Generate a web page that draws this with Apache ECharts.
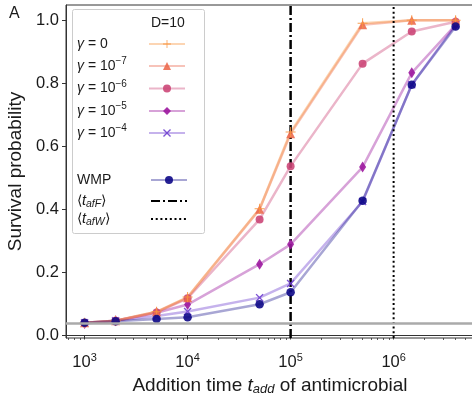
<!DOCTYPE html>
<html>
<head>
<meta charset="utf-8">
<script src="https://cdn.jsdelivr.net/npm/echarts@6/dist/echarts.min.js"></script>
<style>
  html, body { margin: 0; padding: 0; background: #fff; }
  #chart { width: 472px; height: 393px; }
</style>
</head>
<body>
<div id="chart"></div>
<script>
// addition times (x) and survival probabilities
const addTimes = [1e3, 2e3, 5e3, 1e4, 5e4, 1e5, 5e5, 1.5e6, 4e6];
const gamma0 = [0.040, 0.047, 0.075, 0.122, 0.402, 0.645, 0.990, 1.000, 1.000];
const gamma1e7 = [0.040, 0.047, 0.075, 0.120, 0.400, 0.640, 0.985, 1.000, 1.000];
const gamma1e6 = [0.040, 0.047, 0.073, 0.118, 0.368, 0.537, 0.862, 0.964, 0.995];
const gamma1e5 = [0.038, 0.047, 0.072, 0.098, 0.226, 0.289, 0.534, 0.833, 0.985];
const gamma1e4 = [0.040, 0.047, 0.062, 0.076, 0.120, 0.165, 0.425, 0.795, 0.985];
const wmp = [0.040, 0.045, 0.052, 0.058, 0.099, 0.137, 0.427, 0.795, 0.980];

const tafF = 1e5;      // <t_afF>
const tafW = 1e6;      // <t_afW>
const baseline = 0.042;

const xMajorTicks = [1e3, 1e4, 1e5, 1e6];
const yTicks = [0, 0.2, 0.4, 0.6, 0.8, 1.0];

const xMin = 660, xMax = 6.03e6;
const yMin = -0.008, yMax = 1.048;

// minor ticks 2..9 x 10^n inside the range
const xMinorTicks = [];
for (let n = 2; n <= 6; n++) {
  for (let k = 2; k <= 9; k++) {
    const v = k * Math.pow(10, n);
    if (v > xMin && v < xMax) xMinorTicks.push(v);
  }
}

const FONT = 'Liberation Sans, Arial, sans-serif';
const INK = '#1a1a1a';
const plusPath = 'path://M4.5,0H5.5V4.5H10V5.5H5.5V10H4.5V5.5H0V4.5H4.5Z';
const crossPath = 'path://M0,1.2L1.2,0L5,3.8L8.8,0L10,1.2L6.2,5L10,8.8L8.8,10L5,6.2L1.2,10L0,8.8L3.8,5Z';

function pts(values) {
  return addTimes.map((t, i) => [t, values[i]]);
}

function curve(name, values, color, symbol, size, lineAlpha) {
  return {
    name: name,
    type: 'line',
    data: pts(values),
    symbol: symbol,
    symbolSize: size,
    lineStyle: { color: color, width: 2.5, opacity: lineAlpha || 0.4 },
    itemStyle: { color: color, opacity: 0.9 },
    emphasis: { disabled: true }
  };
}

// legend rows: series name, label (rich text), icon left, row centre y
const legendRows = [
  ['g0', '{g|γ} = 0', 148, 44],
  ['g7', '{g|γ} = 10{sup|−7}', 148, 66],
  ['g6', '{g|γ} = 10{sup|−6}', 148, 88.5],
  ['g5', '{g|γ} = 10{sup|−5}', 148, 111],
  ['g4', '{g|γ} = 10{sup|−4}', 148, 133],
  ['WMP', 'WMP', 150, 180],
  ['tafF', '⟨{it|t}{sub|afF}⟩', 150, 201],
  ['tafW', '⟨{it|t}{sub|afW}⟩', 150, 219]
];

const richText = {
  g: { fontSize: 14, fontStyle: 'italic', fontFamily: FONT, fill: INK },
  sup: { fontSize: 10, fontFamily: FONT, fill: INK, padding: [0, 0, 9, 0] },
  it: { fontSize: 14.5, fontStyle: 'italic', fontFamily: FONT, fill: INK },
  sub: { fontSize: 10.5, fontStyle: 'italic', fontFamily: FONT, fill: INK, padding: [7, 0, 0, 0] }
};

const g1e4 = curve('g4', gamma1e4, '#6f3fd0', crossPath, 8);
g1e4.markLine = {
  silent: true, symbol: 'none', label: { show: false }, animation: false,
  lineStyle: { color: '#aaaaaa', width: 2.5, type: 'solid' },
  data: [{ yAxis: baseline }]
};

const series = [
  g1e4,
  curve('g5', gamma1e5, '#9c179e', 'diamond', [7, 11]),
  curve('g6', gamma1e6, '#cc4778', 'circle', 8),
  curve('g7', gamma1e7, '#ec6a4f', 'triangle', 9),
  curve('g0', gamma0, '#f89540', plusPath, 10),
  curve('WMP', wmp, '#0d0887', 'circle', 8.5, 0.36),
  {
    name: 'tafF', type: 'line', symbol: 'none',
    data: [[tafF, yMin], [tafF, yMax]],
    lineStyle: { color: '#000', width: 2.5, type: [9, 3, 2, 3] },
    emphasis: { disabled: true }
  },
  {
    name: 'tafW', type: 'line', symbol: 'none',
    data: [[tafW, yMin], [tafW, yMax]],
    lineStyle: { color: '#000', width: 2, type: [2, 2.7] },
    emphasis: { disabled: true }
  }
];

// one icon-only legend per row so the samples sit in one column
const legends = legendRows.map(r => ({
  left: r[2],
  top: r[3] - 5,
  padding: 0,
  itemWidth: 36,
  itemHeight: 10,
  selectedMode: false,
  formatter: () => '',
  data: [(r[0] === 'tafF' || r[0] === 'tafW') ? { name: r[0], itemStyle: { opacity: 0 } } : r[0]]
}));

const legendTexts = legendRows.map(r => ({
  type: 'text', x: 77, y: r[3], z: 5,
  style: { text: r[1], rich: richText, fontSize: 14, fontFamily: FONT, fill: INK, verticalAlign: 'middle' }
}));

const option = {
  animation: false,
  grid: {
    left: 66, top: 5, width: 408, height: 333,
    outerBoundsMode: 'none', containLabel: false,
    show: true, borderColor: '#333', borderWidth: 1
  },
  xAxis: [{
    type: 'log',
    min: xMin, max: xMax,
    position: 'bottom',
    axisLine: { show: true, lineStyle: { color: '#333', width: 1 } },
    axisTick: { show: true, customValues: xMajorTicks, length: 4, lineStyle: { color: '#333' } },
    axisLabel: {
      customValues: xMajorTicks, margin: 14, fontSize: 16.5, fontFamily: FONT, color: INK,
      formatter: v => '10{sup|' + Math.round(Math.log10(v)) + '}',
      rich: { sup: { fontSize: 11, fontFamily: FONT, color: INK, padding: [0, 0, 10, 0] } }
    },
    splitLine: { show: false },
    name: 'Addition time {it|t}{sub|add} of antimicrobial',
    nameLocation: 'middle', nameGap: 32,
    nameTextStyle: {
      fontSize: 19, fontFamily: FONT, color: INK,
      rich: {
        it: { fontSize: 19, fontStyle: 'italic', fontFamily: FONT, color: INK },
        sub: { fontSize: 13, fontStyle: 'italic', fontFamily: FONT, color: INK, padding: [8, 0, 0, 0] }
      }
    }
  }, {
    type: 'log',
    min: xMin, max: xMax,
    position: 'bottom',
    gridIndex: 0,
    axisLine: { show: false },
    axisTick: { show: true, customValues: xMinorTicks, length: 2, lineStyle: { color: '#333', width: 0.8 } },
    axisLabel: { show: false },
    splitLine: { show: false }
  }],
  yAxis: {
    type: 'value',
    min: yMin, max: yMax,
    axisLine: { show: true, lineStyle: { color: '#333', width: 1 } },
    axisTick: { show: true, customValues: yTicks, length: 4, lineStyle: { color: '#333' } },
    axisLabel: {
      customValues: yTicks, margin: 7, fontSize: 16.5, fontFamily: FONT, color: INK,
      formatter: v => v.toFixed(1)
    },
    splitLine: { show: false },
    name: 'Survival probability',
    nameLocation: 'middle', nameGap: 33,
    nameTextStyle: { fontSize: 19, fontFamily: FONT, color: INK }
  },
  legend: legends,
  graphic: [
    {
      type: 'rect', left: 72, top: 9, z: 0,
      shape: { width: 132, height: 224, r: 2 },
      style: { fill: 'rgba(255,255,255,0.8)', stroke: '#cccccc', lineWidth: 1 }
    },
    {
      type: 'text', left: 151, top: 16,
      style: { text: 'D=10', fontSize: 14, fontFamily: FONT, fill: INK }
    },
    {
      type: 'text', left: 9, top: 6,
      style: { text: 'A', fontSize: 16, fontFamily: FONT, fill: INK }
    }
  ].concat(legendTexts),
  series: series
};

const chart = echarts.init(document.getElementById('chart'));
chart.setOption(option);
</script>
</body>
</html>
